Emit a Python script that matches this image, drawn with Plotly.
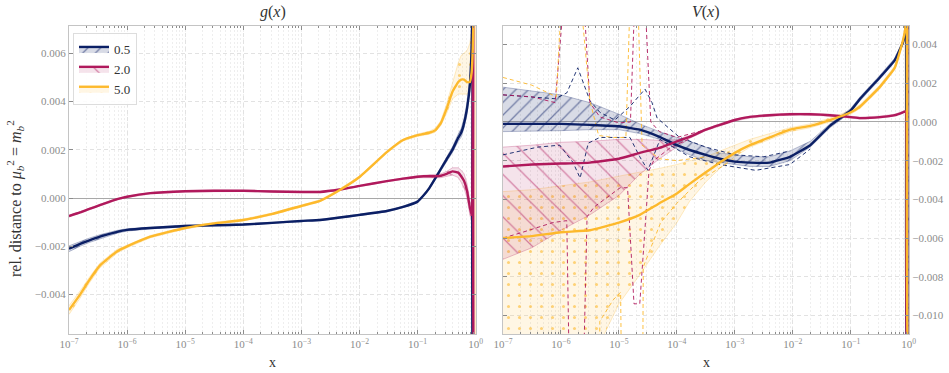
import plotly.graph_objects as go

# ---------------- data ----------------
SCALES = ["0.5", "2.0", "5.0"]
COLORS = ["#0b1f65", "#b0195c", "#fdb92c"]
RGB = [(11, 31, 101), (176, 25, 92), (253, 185, 44)]

# g(x) panel: common x grid
G_X = [1e-7, 1.55e-7, 2.24e-7, 3.39e-7, 6.76e-7, 1e-6, 2.51e-6, 1e-5, 3.16e-5, 1e-4, 3.16e-4,
       1e-3, 2.09e-3, 4.57e-3, 1e-2, 2.95e-2, 5.62e-2, 0.1, 0.126, 0.158, 0.2,
       0.251, 0.316, 0.398, 0.501, 0.562, 0.631, 0.708, 0.794, 0.851, 0.871,
       0.891, 0.912, 0.955, 1.0]

G_05 = [-0.0021, -0.0019, -0.00175, -0.0016, -0.0014, -0.00132, -0.00124, -0.00116, -0.00113, -0.00110, -0.00103,
        -0.00095, -0.00091, -0.00081, -0.0007, -0.00054, -0.00037, -0.00015, 0.0001, 0.0004, 0.0008,
        0.0012, 0.0016, 0.0020, 0.0025, 0.0027, 0.0031, 0.0037, 0.0047, 0.0062, 0.0075,
        0.009, -0.009, -0.009, -0.009]
G_20 = [-0.00075, -0.0006, -0.00045, -0.0003, -0.00005, 0.00005, 0.0002, 0.00028, 0.0003, 0.0003, 0.00027,
        0.00025, 0.00025, 0.00035, 0.0005, 0.0007, 0.0008, 0.00088, 0.0009, 0.0009, 0.0009,
        0.00092, 0.001, 0.0011, 0.00105, 0.0009, 0.0007, 0.0003, -0.0004, -0.0007, -0.0005,
        0.003, 0.009, -0.009, -0.009]
G_50 = [-0.00464, -0.0040, -0.0034, -0.0028, -0.0022, -0.0020, -0.0016, -0.00124, -0.00105, -0.00091, -0.00066,
        -0.00033, -0.00012, 0.00033, 0.00087, 0.0019, 0.0024, 0.0026, 0.00265, 0.0027, 0.0028,
        0.0031, 0.0037, 0.0044, 0.0048, 0.0049, 0.0049, 0.0048, 0.0048, 0.0052, 0.0056,
        0.0062, 0.0072, 0.009, 0.009]

# spread of the scale-variation band above / below each g(x) curve
G_UP_05 = [0.00012, 0.0001, 0.00009, 0.00008, 0.00006, 0.00005, 0.00004, 0.00004, 0.00003, 0.00003, 0.00003,
           0.00003, 0.00003, 0.00003, 0.00003, 0.00003, 0.00003, 0.00004, 0.00004, 0.00005, 0.00006,
           0.00008, 0.0001, 0.00012, 0.00015, 0.00018, 0.0002, 0.00025, 0.0003, 0.0004, 0.0004,
           0.0, 0.0, 0.0, 0.0]
G_LO_05 = G_UP_05
G_UP_20 = [0.00003, 0.00003, 0.00003, 0.00003, 0.00003, 0.00003, 0.00003, 0.00003, 0.00003, 0.00003, 0.00003,
           0.00003, 0.00003, 0.00003, 0.00003, 0.00003, 0.00003, 0.00004, 0.00004, 0.00005, 0.00006,
           0.00008, 0.0001, 0.00015, 0.0002, 0.00025, 0.0003, 0.0003, 0.0003, 0.0003, 0.0003,
           0.0, 0.0, 0.0, 0.0]
G_LO_20 = G_UP_20
G_UP_50 = [0.00018, 0.00015, 0.00012, 0.0001, 0.00008, 0.00006, 0.00005, 0.00004, 0.00004, 0.00004, 0.00004,
           0.00004, 0.00004, 0.00004, 0.00004, 0.00004, 0.00004, 0.00005, 0.00005, 0.00006, 0.00008,
           0.0001, 0.0002, 0.0004, 0.0008, 0.0010, 0.0011, 0.0013, 0.0016, 0.0018, 0.002,
           0.005, 0.005, 0.005, 0.005]
G_LO_50 = [0.00018, 0.00015, 0.00012, 0.0001, 0.00008, 0.00006, 0.00005, 0.00004, 0.00004, 0.00004, 0.00004,
           0.00004, 0.00004, 0.00004, 0.00004, 0.00004, 0.00004, 0.00005, 0.00005, 0.00006, 0.00008,
           0.0001, 0.0002, 0.0003, 0.0005, 0.0006, 0.0006, 0.0005, 0.0004, 0.0005, 0.0006,
           0.02, 0.02, 0.02, 0.02]

# V(x) panel: common x grid
V_X = [1e-7, 3.16e-7, 1e-6, 3.16e-6, 1e-5, 2.29e-5, 5.01e-5, 1e-4, 1.66e-4, 3.16e-4,
       5.5e-4, 1e-3, 1.82e-3, 3.98e-3, 8.91e-3, 2.0e-2, 4.37e-2, 0.1, 0.145, 0.316,
       0.575, 0.794, 0.871, 0.912, 0.933, 0.966, 1.0]

V_05 = [-0.0001, -0.0001, -0.0001, -0.00015, -0.00022, -0.0004, -0.00077, -0.0012, -0.00145, -0.0017,
        -0.0019, -0.00205, -0.0021, -0.0021, -0.0018, -0.0012, -0.0002, 0.0006, 0.0012, 0.0023,
        0.0032, 0.0041, 0.0046, 0.006, -0.012, -0.012, -0.012]
V_20 = [-0.0023, -0.0022, -0.00215, -0.0021, -0.0019, -0.0016, -0.00134, -0.001, -0.00077, -0.0004,
        -0.00015, 0.0001, 0.00026, 0.00035, 0.0004, 0.0004, 0.00035, 0.00025, 0.0002, 0.00025,
        0.00035, 0.0005, 0.00055, 0.0004, -0.012, -0.012, -0.012]
V_50 = [-0.006, -0.0059, -0.0057, -0.0056, -0.0052, -0.0048, -0.0042, -0.0037, -0.0032, -0.0026,
        -0.0021, -0.0016, -0.0012, -0.0008, -0.0004, -0.0002, 0.0001, 0.0005, 0.0008, 0.0018,
        0.0028, 0.0042, 0.0048, 0.0055, 0.006, -0.012, -0.012]

V_HI_05 = [0.0018, 0.0016, 0.0014, 0.001, 0.0004, -0.0001, -0.0005, -0.0008, -0.001, -0.0013,
           -0.0016, -0.0017, -0.0018, -0.0018, -0.0015, -0.001, -0.0001, 0.0007, 0.0013, 0.0024,
           0.0033, 0.0042, 0.0047, 0.0061, 0.006, 0.006, 0.006]
V_LO_05 = [-0.0005, -0.00048, -0.00045, -0.0004, -0.0004, -0.0006, -0.0009, -0.0014, -0.0017, -0.002,
           -0.0021, -0.0022, -0.0023, -0.0023, -0.002, -0.0013, -0.0003, 0.0005, 0.0011, 0.0022,
           0.0031, 0.004, 0.0045, -0.012, -0.012, -0.012, -0.012]
V_HI_20 = [-0.0013, -0.0012, -0.00105, -0.001, -0.0009, -0.0009, -0.00095, -0.00092, -0.0007, -0.00035,
           -0.0001, 0.00015, 0.0003, 0.0004, 0.00045, 0.00045, 0.0004, 0.0003, 0.00025, 0.0003,
           0.0004, 0.00055, 0.0006, 0.006, 0.006, 0.006, 0.006]
V_LO_20 = [-0.0071, -0.0065, -0.0056, -0.0048, -0.0038, -0.0027, -0.0019, -0.0013, -0.00085, -0.00045,
           -0.0002, 0.00005, 0.0002, 0.0003, 0.00035, 0.00035, 0.0003, 0.0002, 0.00015, 0.0002,
           0.0003, 0.00045, 0.0005, -0.012, -0.012, -0.012, -0.012]
V_HI_50 = [-0.0036, -0.0035, -0.0033, -0.0031, -0.0028, -0.0026, -0.0024, -0.0022, -0.002, -0.0018,
           -0.0015, -0.0012, -0.0009, -0.0006, -0.0003, -0.0001, 0.0002, 0.0006, 0.0009, 0.0019,
           0.0029, 0.0043, 0.0049, 0.006, 0.006, 0.006, 0.006]
V_LO_50 = [-0.02, -0.02, -0.02, -0.0125, -0.0094, -0.0079, -0.0064, -0.0052, -0.0041, -0.0031,
           -0.0024, -0.0018, -0.0013, -0.0009, -0.0005, -0.0003, 0.0, 0.0004, 0.0007, 0.0017,
           0.0027, 0.0041, 0.0047, -0.012, -0.012, -0.012, -0.012]

# individual scale variations of V(x) (dashed)
VD_05_A_X = [1e-7, 3.16e-7, 7.94e-7, 1.26e-6, 1.95e-6, 3.16e-6, 4.68e-6, 8.51e-6, 1.55e-5, 2.82e-5,
             3.72e-5, 4.57e-5, 1.12e-4, 3.16e-4, 1e-3, 3.16e-3, 8.91e-3]
VD_05_A = [0.0014, 0.0013, 0.0012, 0.0015, 0.0028, 0.0011, 0.0005, 0.0001, 0.0008, 0.0017,
           0.001, 0.0002, -0.0008, -0.0013, -0.0017, -0.0018, -0.0015]
VD_05_B_X = [1e-7, 3.98e-7, 9.55e-7, 1.62e-6, 2.14e-6, 2.95e-6, 4.68e-6, 1.55e-5, 2.29e-5, 3.16e-5,
             5.13e-5, 1.66e-4, 5.5e-4, 2.29e-3, 8.91e-3, 2.0e-2]
VD_05_B = [-0.0017, -0.0013, -0.0012, -0.0021, -0.0029, -0.0011, -0.0008, -0.0008, -0.0018, -0.0025,
           -0.0009, -0.0018, -0.0022, -0.0025, -0.0022, -0.0014]
VD_20_A_X = [1e-7, 3.16e-7, 7.94e-7, 1.17e-6, 2.4e-6, 3.16e-6, 4.68e-6, 1e-5, 1.58e-5, 1.91e-5,
             2.75e-5, 3.55e-5, 5.01e-5, 1e-4, 3.16e-4]
VD_20_A = [0.0014, 0.0013, 0.001, 0.007, 0.007, 0.001, 0.00026, -0.00005, 0.0, 0.007,
           0.007, 0.0, -0.0005, -0.0008, -0.0004]
VD_20_B_X = [1e-7, 2.19e-7, 7.24e-7, 1.26e-6, 1.41e-6, 2.4e-6, 2.82e-6, 3.72e-6, 1.05e-5, 1.41e-5,
             1.82e-5, 2.29e-5, 3.31e-5, 3.98e-5, 7.94e-5, 1.58e-4]
VD_20_B = [-0.006, -0.0057, -0.0052, -0.0051, -0.014, -0.014, -0.0049, -0.0044, -0.0034, -0.0034,
           -0.0094, -0.0094, -0.0025, -0.002, -0.0013, -0.0009]
VD_50_A_X = [1e-7, 3.16e-7, 8.32e-7, 1.05e-6, 2.09e-6, 3.16e-6, 4.47e-6, 7.94e-6, 1.32e-5, 1.58e-5,
             2.09e-5, 2.51e-5, 5.01e-5, 1e-4, 3.16e-4]
VD_50_A = [0.0023, 0.0019, 0.0013, 0.007, 0.007, 0.0011, -0.0007, -0.0008, -0.0008, 0.007,
           0.007, -0.0012, -0.0019, -0.002, -0.0018]
VD_50_B_X = [1e-7, 4.47e-6, 4.68e-6, 7.94e-6, 1.07e-5, 1.17e-5, 2.51e-5, 2.63e-5, 5.25e-5, 1e-4,
             2.51e-4, 1e-3]
VD_50_B = [-0.02, -0.02, -0.0103, -0.0092, -0.0088, -0.02, -0.02, -0.0075, -0.0052, -0.0042,
           -0.003, -0.0019]

X_TICKS = [1e-7, 1e-6, 1e-5, 1e-4, 1e-3, 1e-2, 1e-1, 1]
X_TICKTEXT = ["10<sup>−7</sup>", "10<sup>−6</sup>", "10<sup>−5</sup>", "10<sup>−4</sup>",
              "10<sup>−3</sup>", "10<sup>−2</sup>", "10<sup>−1</sup>", "10<sup>0</sup>"]
G_YTICKS = [-0.004, -0.002, 0.0, 0.002, 0.004, 0.006]
V_YTICKS = [-0.010, -0.008, -0.006, -0.004, -0.002, 0.0, 0.002, 0.004]

# ---------------- styling ----------------
PATTERNS = [dict(shape="/", size=9, solidity=0.14),
            dict(shape="\\", size=15, solidity=0.08),
            dict(shape=".", size=11, solidity=0.06)]
BG_ALPHA = [0.16, 0.12, 0.13]
FG_ALPHA = [0.5, 0.5, 0.6]
SERIF = "Liberation Serif, DejaVu Serif, serif"
GRID = "#e2e2e2"
MINOR_GRID = "#eeeeee"
FRAME = "#c4c4c4"
TICKC = "#8c8c8c"


def rgba(i, a):
    r, g, b = RGB[i]
    return f"rgba({r},{g},{b},{a})"


def pattern(i):
    p = dict(PATTERNS[i])
    p.update(fgcolor=rgba(i, FG_ALPHA[i]), bgcolor=rgba(i, BG_ALPHA[i]), fillmode="replace")
    return p


fig = go.Figure()


def band(xs, hi, lo, i, xa, ya):
    fig.add_trace(go.Scatter(
        x=list(xs) + list(xs)[::-1], y=list(hi) + list(lo)[::-1],
        fill="toself", fillcolor=rgba(i, BG_ALPHA[i]), fillpattern=pattern(i),
        line=dict(color=rgba(i, 0.45), width=0.6), mode="lines",
        hoverinfo="skip", showlegend=False, xaxis=xa, yaxis=ya))


def curve(xs, ys, i, xa, ya, width=2.4):
    fig.add_trace(go.Scatter(
        x=xs, y=ys, mode="lines",
        line=dict(color=COLORS[i], width=width, shape="spline", smoothing=0.35),
        showlegend=False, xaxis=xa, yaxis=ya))


# g(x) panel
g_curves = [G_05, G_20, G_50]
g_up = [G_UP_05, G_UP_20, G_UP_50]
g_lo = [G_LO_05, G_LO_20, G_LO_50]
for i in range(3):
    hi = [c + u for c, u in zip(g_curves[i], g_up[i])]
    lo = [c - d for c, d in zip(g_curves[i], g_lo[i])]
    band(G_X, hi, lo, i, "x", "y")
for i in range(3):
    curve(G_X, g_curves[i], i, "x", "y")

# V(x) panel
v_curves = [V_05, V_20, V_50]
v_hi = [V_HI_05, V_HI_20, V_HI_50]
v_lo = [V_LO_05, V_LO_20, V_LO_50]
for i in [2, 1, 0]:
    band(V_X, v_hi[i], v_lo[i], i, "x2", "y2")
dashed = [(VD_05_A_X, VD_05_A, 0), (VD_05_B_X, VD_05_B, 0),
          (VD_20_A_X, VD_20_A, 1), (VD_20_B_X, VD_20_B, 1),
          (VD_50_A_X, VD_50_A, 2), (VD_50_B_X, VD_50_B, 2)]
for xs, ys, i in dashed:
    fig.add_trace(go.Scatter(x=xs, y=ys, mode="lines",
                             line=dict(color=COLORS[i], width=0.9, dash="4px,3px"),
                             showlegend=False, xaxis="x2", yaxis="y2"))
for i in range(3):
    curve(V_X, v_curves[i], i, "x2", "y2")

# legend entries
for i in range(3):
    fig.add_trace(go.Scatter(
        x=[None], y=[None], mode="lines", name=SCALES[i],
        fill="toself", fillcolor=rgba(i, BG_ALPHA[i]), fillpattern=pattern(i),
        line=dict(color=COLORS[i], width=2.4), xaxis="x", yaxis="y"))

W, H = 949, 373
xd1 = [69 / W, 476 / W]
xd2 = [503 / W, 909 / W]
yd = [(H - 334) / H, (H - 26) / H]

common_x = dict(type="log", tickvals=X_TICKS, ticktext=X_TICKTEXT,
                ticks="inside", ticklen=4, tickcolor=TICKC,
                showline=True, linecolor=FRAME, linewidth=1.2, mirror="ticks",
                showgrid=True, gridcolor=GRID, griddash="4px,3px", gridwidth=0.8,
                minor=dict(dtick="D1", ticks="inside", ticklen=2, tickcolor=TICKC,
                           showgrid=True, gridcolor=MINOR_GRID, griddash="2px,2px", gridwidth=0.7),
                tickfont=dict(family=SERIF, size=11, color=TICKC),
                zeroline=False, automargin=False)
common_y = dict(ticks="inside", ticklen=4, tickcolor=TICKC,
                showline=True, linecolor=FRAME, linewidth=1.2, mirror="ticks",
                showgrid=True, gridcolor=GRID, griddash="4px,3px", gridwidth=0.8,
                zeroline=True, zerolinecolor="#a8a8a8", zerolinewidth=1.3,
                tickfont=dict(family=SERIF, size=11, color=TICKC), automargin=False)

fig.update_layout(
    width=W, height=H, margin=dict(l=0, r=0, t=0, b=0),
    paper_bgcolor="white", plot_bgcolor="white",
    xaxis=dict(common_x, domain=xd1, range=[-7, 0.005], anchor="y"),
    xaxis2=dict(common_x, domain=xd2, range=[-7, 0.005], anchor="y2"),
    yaxis=dict(common_y, domain=yd, range=[-0.00563, 0.00712], anchor="x",
               tickvals=G_YTICKS, ticktext=[f"{v:.3f}".replace("-", "−") for v in G_YTICKS]),
    yaxis2=dict(common_y, domain=yd, range=[-0.01096, 0.00496], anchor="x2", side="right",
                tickvals=V_YTICKS, ticktext=[f"{v:.3f}".replace("-", "−") for v in V_YTICKS]),
    legend=dict(x=73 / W, y=(H - 33) / H, xanchor="left", yanchor="top",
                bgcolor="rgba(255,255,255,0.9)", bordercolor="#dddddd", borderwidth=1,
                font=dict(family=SERIF, size=13, color="#333333"),
                itemwidth=30, tracegroupgap=0),
    showlegend=True,
)

annots = [
    dict(text="<i>g</i>(<i>x</i>)", x=sum(xd1) / 2, y=(H - 12) / H, size=16),
    dict(text="<i>V</i>(<i>x</i>)", x=sum(xd2) / 2, y=(H - 12) / H, size=16),
    dict(text="x", x=sum(xd1) / 2, y=(H - 362) / H, size=14),
    dict(text="x", x=sum(xd2) / 2, y=(H - 362) / H, size=14),
]
for a in annots:
    fig.add_annotation(text=a["text"], x=a["x"], y=a["y"], xref="paper", yref="paper",
                       showarrow=False, xanchor="center", yanchor="middle",
                       font=dict(family=SERIF, size=a["size"], color="#333333"))
fig.add_annotation(text="rel. distance to <i>μ</i><sub><i>b</i></sub><sup>2</sup> = <i>m</i><sub><i>b</i></sub><sup>2</sup>",
                   x=15 / W, y=(H - 199) / H, xref="paper", yref="paper", textangle=-90,
                   showarrow=False, xanchor="center", yanchor="middle",
                   font=dict(family=SERIF, size=16, color="#333333"))

fig.write_html("out.html")
